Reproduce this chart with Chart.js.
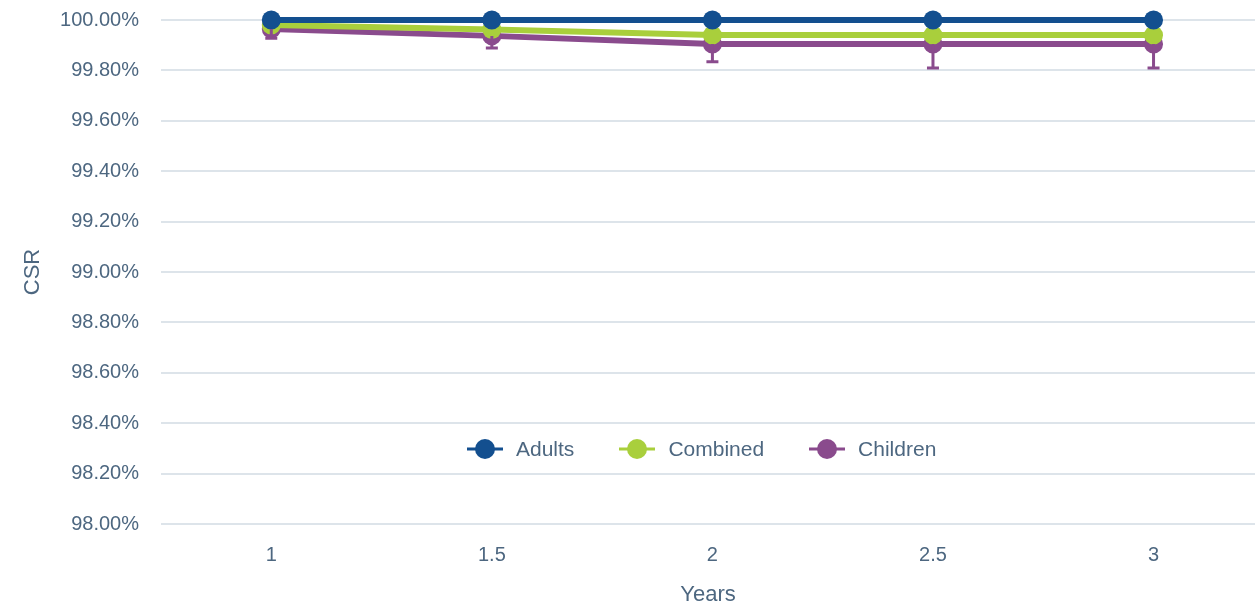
<!DOCTYPE html>
<html>
<head>
<meta charset="utf-8">
<script src="https://cdn.jsdelivr.net/npm/chart.js@4"></script>
<style>
  html, body { margin: 0; padding: 0; background: #fff; }
  #wrap { position: relative; width: 1255px; height: 608px; }
  #legend {
    position: absolute; left: 466px; top: 437px;
    display: flex; gap: 44px;
    font-family: "Liberation Sans", Arial, sans-serif; font-size: 21px; color: #4d6780;
  }
  .item { display: flex; align-items: center; gap: 12px; }
</style>
</head>
<body>
<div id="wrap">
  <canvas id="csrChart" width="1255" height="608"></canvas>
  <div id="legend"></div>
</div>
<script>
// ---------------- data ----------------
const years = [1, 1.5, 2, 2.5, 3];
const adults = [100, 100, 100, 100, 100];
const combined = [99.98, 99.962, 99.94, 99.94, 99.94];
const children = [99.964, 99.937, 99.905, 99.905, 99.905];
const childrenErrLow = [0.036, 0.048, 0.071, 0.095, 0.095];
const xTicks = [1, 1.5, 2, 2.5, 3];

const seriesNames = ['Adults', 'Combined', 'Children'];
const seriesColors = ['#134f8f', '#a9cf3c', '#8a4b8d'];
const textColor = '#4d6780';
const tickFont = { family: 'Liberation Sans', size: 20 };

function pts(vals) {
  return years.map((x, i) => ({ x: x, y: vals[i] }));
}

// lower error bars for children
const errorBars = {
  id: 'errorBars',
  afterDatasetsDraw(chart) {
    const ctx = chart.ctx;
    const xs = chart.scales.x, ys = chart.scales.y;
    ctx.save();
    ctx.strokeStyle = seriesColors[2];
    ctx.lineWidth = 3;
    children.forEach((v, i) => {
      const px = xs.getPixelForValue(years[i]);
      const top = ys.getPixelForValue(v);
      const bot = ys.getPixelForValue(v - childrenErrLow[i]);
      ctx.beginPath();
      ctx.moveTo(px, top);
      ctx.lineTo(px, bot);
      ctx.moveTo(px - 6, bot);
      ctx.lineTo(px + 6, bot);
      ctx.stroke();
    });
    ctx.restore();
  }
};

const datasets = [adults, combined, children].map((vals, i) => ({
  label: seriesNames[i],
  data: pts(vals),
  borderColor: seriesColors[i],
  backgroundColor: seriesColors[i],
  borderWidth: 6,
  pointRadius: 9.5,
  pointHoverRadius: 9.5,
  pointBorderWidth: 0,
  tension: 0,
  clip: false
}));

new Chart(document.getElementById('csrChart'), {
  type: 'line',
  data: { datasets: datasets },
  plugins: [errorBars],
  options: {
    responsive: false,
    animation: false,
    layout: { autoPadding: false, padding: { top: 20, right: 0, left: 20, bottom: 0 } },
    plugins: {
      legend: { display: false },
      tooltip: { enabled: false }
    },
    scales: {
      x: {
        type: 'linear',
        min: 0.75,
        max: 3.23,
        afterBuildTicks: scale => { scale.ticks = xTicks.map(v => ({ value: v })); },
        afterFit: scale => { scale.height = 84; scale.paddingLeft = 0; scale.paddingRight = 0; },
        grid: { display: false },
        border: { display: false },
        ticks: { color: textColor, font: tickFont, padding: 11, callback: v => String(v) },
        title: { display: true, text: 'Years', color: textColor, font: { family: 'Liberation Sans', size: 22 }, padding: { top: 0, bottom: 0 } }
      },
      y: {
        min: 98,
        max: 100,
        afterFit: scale => { scale.width = 141; scale.paddingTop = 0; scale.paddingBottom = 0; },
        ticks: {
          stepSize: 0.2,
          color: textColor,
          font: tickFont,
          padding: 22,
          callback: v => v.toFixed(2) + '%'
        },
        grid: { color: '#dde4ea', lineWidth: 2, drawTicks: false },
        border: { display: false },
        title: { display: true, text: 'CSR', color: textColor, font: { family: 'Liberation Sans', size: 22 }, padding: { top: 0, bottom: 0 } }
      }
    }
  }
});

// html legend
const legend = document.getElementById('legend');
seriesNames.forEach((name, i) => {
  const it = document.createElement('div');
  it.className = 'item';
  it.innerHTML = '<svg width="38" height="22"><line x1="1" y1="11" x2="37" y2="11" stroke="' + seriesColors[i] +
    '" stroke-width="3"/><circle cx="19" cy="11" r="10" fill="' + seriesColors[i] + '"/></svg><span>' + name + '</span>';
  legend.appendChild(it);
});
</script>
</body>
</html>
